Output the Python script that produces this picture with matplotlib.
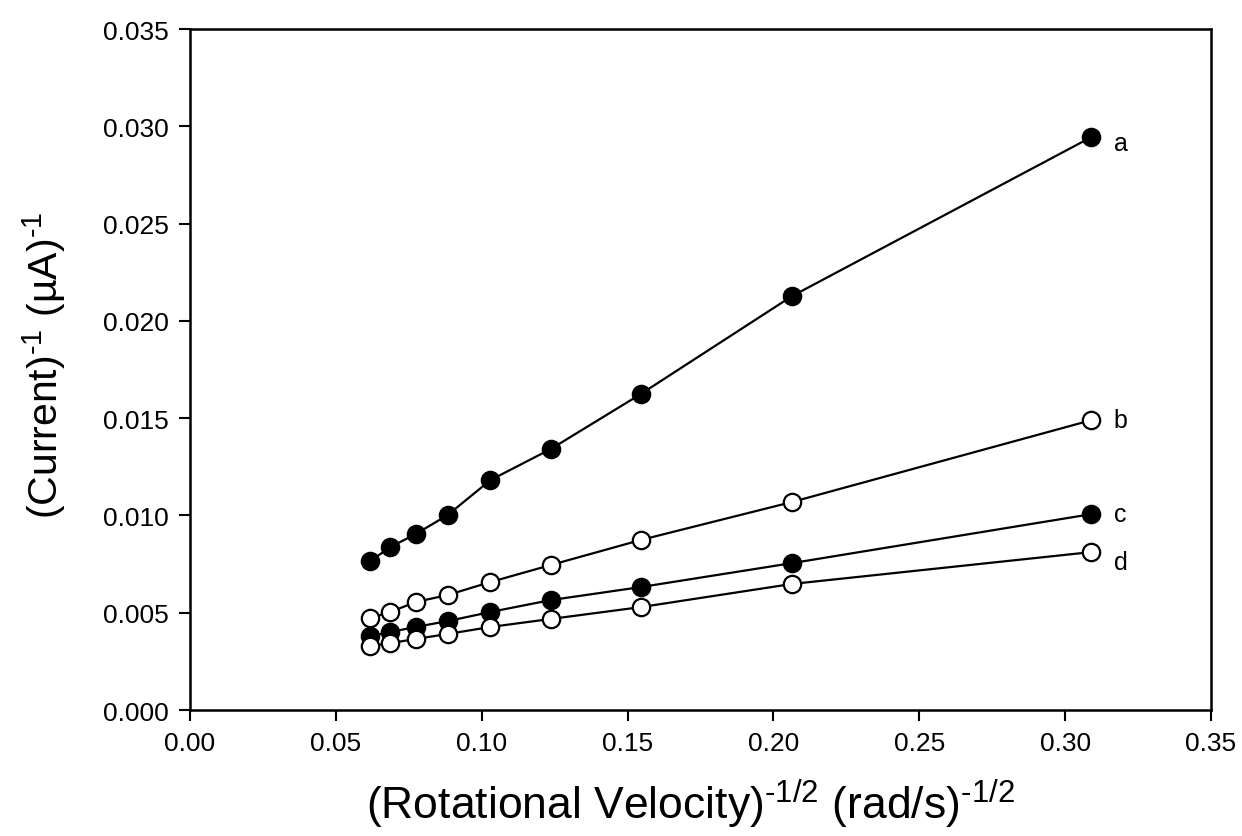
import numpy as np
import matplotlib
matplotlib.use("Agg")
from matplotlib import pyplot as plt

plt.rcParams['font.family'] = ['Liberation Sans', 'DejaVu Sans']
plt.rcParams['mathtext.fontset'] = 'custom'
plt.rcParams['mathtext.rm'] = 'Liberation Sans'
plt.rcParams['mathtext.it'] = 'Liberation Sans:italic'

# rotation rates 100..2500 rpm -> (rad/s)^-1/2
omega_inv_sqrt = [0.0618, 0.0687, 0.0773, 0.0883, 0.1030, 0.1236, 0.1545, 0.2063, 0.3090]

curve_a = [0.00766, 0.00838, 0.00904, 0.01002, 0.01182, 0.01341, 0.01624, 0.02127, 0.02945]
curve_b = [0.00473, 0.00504, 0.00555, 0.00591, 0.00658, 0.00745, 0.00874, 0.01069, 0.01490]
curve_c = [0.00380, 0.00401, 0.00427, 0.00457, 0.00504, 0.00565, 0.00632, 0.00755, 0.01007]
curve_d = [0.00329, 0.00344, 0.00365, 0.00391, 0.00427, 0.00468, 0.00529, 0.00648, 0.00812]

series = [("a", curve_a, "black", -4), ("b", curve_b, "white", 0),
          ("c", curve_c, "black", 0), ("d", curve_d, "white", -7)]

fig = plt.figure(figsize=(12.42, 8.37), dpi=100)
ax = fig.add_axes([0.153, 0.1505, 0.822, 0.8135])

x = np.array(omega_inv_sqrt)
for name, vals, face, dy in series:
    ax.plot(x, vals, '-', color='black', lw=1.6, zorder=2)
    ax.plot(x, vals, 'o', mfc=face, mec='black', mew=1.6, ms=12.5, zorder=3)
    ax.annotate(name, (x[-1], vals[-1]), xytext=(16, dy), textcoords='offset points',
                fontsize=18, va='center', ha='left')

ax.set_xlim(0, 0.35)
ax.set_ylim(0, 0.035)
ax.set_xticks(np.arange(0, 0.351, 0.05))
ax.set_yticks(np.arange(0, 0.0351, 0.005))
ax.set_xticklabels([f"{v:.2f}" for v in np.arange(0, 0.351, 0.05)])
ax.set_yticklabels([f"{v:.3f}" for v in np.arange(0, 0.0351, 0.005)])
ax.tick_params(direction='out', length=8, width=1.5, labelsize=19, pad=7)
for s in ax.spines.values():
    s.set_linewidth(1.8)

ax.set_xlabel(r"(Rotational Velocity)$^{\text{-1/2}}$ (rad/s)$^{\text{-1/2}}$", fontsize=32)
ax.set_ylabel(r"(Current)$^{\text{-1}}$ (µA)$^{\text{-1}}$", fontsize=29.5)
ax.xaxis.set_label_coords(0.49, -0.098)
ax.yaxis.set_label_coords(-0.12, 0.507)

fig.savefig("out.png", dpi=100)
